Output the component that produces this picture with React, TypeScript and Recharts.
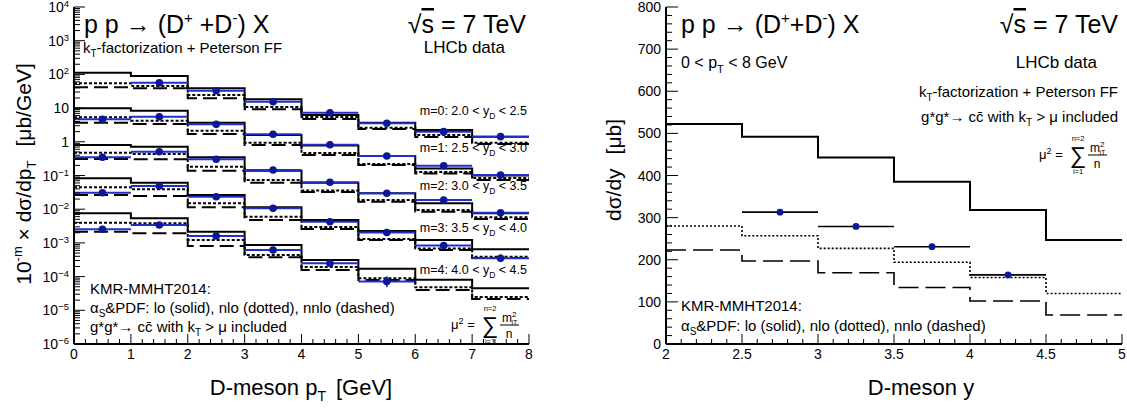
import React from 'react';
import { ComposedChart, Line, Scatter, XAxis, YAxis, ErrorBar } from 'recharts';

const FONT = '"Liberation Sans", Arial, Helvetica, sans-serif';
const INK = '#000000';
const DOT = '#0c1896';
const BAR = '#1f30c8';

// ---- left panel: dsigma/dpT [mub/GeV] in five rapidity slices, drawn as 10^-m x value
const ptEdges = [0, 1, 2, 3, 4, 5, 6, 7, 8];
const ptCenters = [0.5, 1.5, 2.5, 3.5, 4.5, 5.5, 6.5, 7.5];
const sliceRanges = [['2.0', '2.5'], ['2.5', '3.0'], ['3.0', '3.5'], ['3.5', '4.0'], ['4.0', '4.5']];

const m0Lo = [112, 90, 38.7, 18.2, 6.2, 3.7, 2.24, 1.42];
const m0Nlo = [54.5, 45.3, 24.5, 10.8, 5.45, 2.62, 1.59, 0.94];
const m0Nnlo = [41.4, 38.7, 19.5, 9.2, 4.75, 2.4, 1.39, 0.86];
const m0Data = [null, 56.7, 32.8, 15.5, 7.3, 3.54, 2.0, 1.42];
const m0Err = [0, 0.05, 0.05, 0.05, 0.06, 0.07, 0.08, 0.1];

const m1Lo = [98.6, 83.7, 36.9, 15.9, 7.76, 3.79, 1.61, 1.0];
const m1Nlo = [53.3, 42.3, 21.3, 9.4, 4.66, 2.19, 1.27, 0.84];
const m1Nnlo = [36.9, 33.7, 17.0, 8.0, 4.06, 2.05, 1.15, 0.73];
const m1Data = [46.6, 55.6, 33.0, 16.7, 8.2, 3.79, 1.95, 1.03];
const m1Err = [0.05, 0.05, 0.05, 0.05, 0.06, 0.07, 0.08, 0.1];

const m2Lo = [80.4, 71.6, 34.7, 13.9, 6.1, 2.96, 1.5, 0.755];
const m2Nlo = [47.5, 43.5, 18.2, 7.35, 3.59, 1.87, 0.946, 0.575];
const m2Nnlo = [30.9, 30.3, 13.9, 6.1, 3.24, 1.67, 0.843, 0.512];
const m2Data = [34.7, 50.8, 30.3, 14.6, 6.28, 2.96, 1.87, 0.787];
const m2Err = [0.05, 0.05, 0.05, 0.05, 0.06, 0.07, 0.08, 0.12];

const m3Lo = [82.6, 61.1, 26.4, 11.4, 4.79, 2.25, 1.22, 0.646];
const m3Nlo = [44.7, 39.0, 15.0, 5.98, 2.96, 1.31, 0.682, 0.39];
const m3Nnlo = [26.4, 24.7, 11.4, 4.79, 2.58, 1.22, 0.615, 0.356];
const m3Data = [30.9, 48.8, 23.5, 10.6, 4.26, 2.04, 0.838, 0.349];
const m3Err = [0.06, 0.06, 0.06, 0.07, 0.08, 0.1, 0.12, 0.3];

const m4Lo = [75.5, 53.7, 21.5, 8.67, 3.11, 1.71, 0.81, 0.45];
const m4Nlo = [39.7, 38.2, 12.2, 4.38, 1.93, 0.89, 0.48, 0.248];
const m4Nnlo = [21.5, 19.3, 8.1, 3.74, 1.57, 0.79, 0.40, 0.216];
const m4Data = [25.4, 34.0, 16.0, 6.15, 2.48, 0.71, null, null];
const m4Err = [0.08, 0.08, 0.1, 0.12, 0.2, 0.45, 0, 0];

// ---- right panel: dsigma/dy [mub], 0 < pT < 8 GeV
const yEdges = [2, 2.5, 3, 3.5, 4, 4.5, 5];
const yCenters = [2.25, 2.75, 3.25, 3.75, 4.25, 4.75];
const dyLo = [522, 492, 443, 385, 318, 247];
const dyNlo = [280, 257, 227, 194, 158, 120];
const dyNnlo = [223, 197, 169, 134, 102, 69];
const dyData = [null, 313, 279, 231, 164, null];

// axis ticks
const ptMajor = [0, 1, 2, 3, 4, 5, 6, 7, 8];
const ptTicks = Array.from({ length: 41 }, (_, i) => i / 5);
const logTicks: number[] = [];
for (let k = -6; k < 4; k++) for (let j = 1; j < 10; j++) logTicks.push(Number((j * Math.pow(10, k)).toPrecision(6)));
logTicks.push(1e4);
const rapMajor = [2, 2.5, 3, 3.5, 4, 4.5, 5];
const rapTicks = Array.from({ length: 31 }, (_, i) => (20 + i) / 10);
const xsMajor = [0, 100, 200, 300, 400, 500, 600, 700, 800];
const xsTicks = Array.from({ length: 41 }, (_, i) => i * 20);

const slices = [
  { m: 0, lo: m0Lo, nlo: m0Nlo, nnlo: m0Nnlo, data: m0Data, err: m0Err },
  { m: 1, lo: m1Lo, nlo: m1Nlo, nnlo: m1Nnlo, data: m1Data, err: m1Err },
  { m: 2, lo: m2Lo, nlo: m2Nlo, nnlo: m2Nnlo, data: m2Data, err: m2Err },
  { m: 3, lo: m3Lo, nlo: m3Nlo, nnlo: m3Nnlo, data: m3Data, err: m3Err },
  { m: 4, lo: m4Lo, nlo: m4Nlo, nnlo: m4Nnlo, data: m4Data, err: m4Err },
];

const stepRows = (edges: number[], vals: number[], scale = 1) =>
  edges.map((x, i) => ({ x, y: vals[Math.min(i, vals.length - 1)] * scale }));

const pointRows = (centers: number[], vals: (number | null)[], errs: number[] | null, scale: number, half: number) =>
  centers.flatMap((x, i) => {
    const v = vals[i];
    if (v == null) return [];
    const y = v * scale;
    const r = errs ? errs[i] : 0;
    return [{ x, y, ex: half, ey: [y - y / (1 + r), y * r] }];
  });

type Side = 'left' | 'right' | 'top' | 'bottom';

const inList = (list: number[]) => (v: number) => list.some((t) => Math.abs(t - v) < 1e-9);
const isDecade = (v: number) => {
  const k = Math.round(Math.log10(v));
  return Math.abs(v / Math.pow(10, k) - 1) < 1e-6;
};

const logLabel = (v: number) => {
  const k = Math.round(Math.log10(v));
  if (k === 0) return '1';
  if (k === 1) return '10';
  return (
    <>
      <tspan>10</tspan>
      <tspan dy={-5} fontSize={9.5}>{k < 0 ? '\u2212' + Math.abs(k) : String(k)}</tspan>
    </>
  );
};

const makeTick =
  (side: Side, isMajor: (v: number) => boolean, majorLen: number, minorLen: number, label?: (v: number) => React.ReactNode) =>
  (props: any) => {
    const { x, y, payload } = props;
    const v = payload.value;
    const major = isMajor(v);
    const len = major ? majorLen : minorLen;
    const dx = side === 'left' ? len : side === 'right' ? -len : 0;
    const dy = side === 'bottom' ? -len : side === 'top' ? len : 0;
    let text = null;
    if (major && label) {
      if (side === 'bottom')
        text = (
          <text x={x} y={y + 15} textAnchor="middle" fontSize={14} fill={INK} fontFamily={FONT}>
            {label(v)}
          </text>
        );
      if (side === 'left')
        text = (
          <text x={x - 5} y={y + 5} textAnchor="end" fontSize={14} fill={INK} fontFamily={FONT}>
            {label(v)}
          </text>
        );
    }
    return (
      <g>
        <line x1={x} y1={y} x2={x + dx} y2={y + dy} stroke={INK} strokeWidth={1} />
        {text}
      </g>
    );
  };

const frame = { stroke: INK, strokeWidth: 2 };

function PtPanel() {
  const isPtMajor = inList(ptMajor);
  return (
    <ComposedChart width={560} height={410} margin={{ top: 7, right: 31, bottom: 0, left: 0 }}>
      <XAxis dataKey="x" type="number" domain={[0, 8]} ticks={ptTicks} interval={0} height={66} tickSize={0} tickMargin={0}
        tickLine={false} axisLine={frame} allowDataOverflow tick={makeTick('bottom', isPtMajor, 10, 5, (v) => String(v))} />
      <XAxis xAxisId="top" orientation="top" type="number" domain={[0, 8]} ticks={ptTicks} interval={0} height={0} tickSize={0}
        tickMargin={0} tickLine={false} axisLine={frame} allowDataOverflow tick={makeTick('top', isPtMajor, 10, 5)} />
      <YAxis dataKey="y" type="number" scale="log" domain={[1e-6, 1e4]} ticks={logTicks} interval={0} width={74} tickSize={0}
        tickMargin={0} tickLine={false} axisLine={frame} allowDataOverflow tick={makeTick('left', isDecade, 11, 6, logLabel)} />
      <YAxis yAxisId="right" orientation="right" type="number" scale="log" domain={[1e-6, 1e4]} ticks={logTicks} interval={0}
        width={0} tickSize={0} tickMargin={0} tickLine={false} axisLine={frame} allowDataOverflow
        tick={makeTick('right', isDecade, 11, 6)} />
      {slices.flatMap((s) => {
        const scale = Math.pow(10, -s.m);
        return [
          <Line key={`lo${s.m}`} data={stepRows(ptEdges, s.lo, scale)} dataKey="y" type="stepAfter" stroke={INK} strokeWidth={2}
            dot={false} activeDot={false} isAnimationActive={false} />,
          <Line key={`nlo${s.m}`} data={stepRows(ptEdges, s.nlo, scale)} dataKey="y" type="stepAfter" stroke={INK} strokeWidth={2}
            strokeDasharray="3 2" dot={false} activeDot={false} isAnimationActive={false} />,
          <Line key={`nnlo${s.m}`} data={stepRows(ptEdges, s.nnlo, scale)} dataKey="y" type="stepAfter" stroke={INK} strokeWidth={2}
            strokeDasharray="14 6" dot={false} activeDot={false} isAnimationActive={false} />,
        ];
      })}
      {slices.map((s) => (
        <Scatter key={`d${s.m}`} data={pointRows(ptCenters, s.data, s.err, Math.pow(10, -s.m), 0.5)} dataKey="y"
          fill={DOT} isAnimationActive={false}
          shape={(p: any) => <circle cx={p.cx} cy={p.cy} r={3.8} fill={DOT} />}>
          <ErrorBar dataKey="ex" direction="x" width={0} stroke={BAR} strokeWidth={2} />
          <ErrorBar dataKey="ey" direction="y" width={0} stroke={DOT} strokeWidth={1.5} />
        </Scatter>
      ))}
    </ComposedChart>
  );
}

function RapidityPanel() {
  const isRapMajor = inList(rapMajor);
  const isXsMajor = inList(xsMajor);
  return (
    <ComposedChart width={567} height={410} margin={{ top: 7, right: 5, bottom: 0, left: 0 }}>
      <XAxis dataKey="x" type="number" domain={[2, 5]} ticks={rapTicks} interval={0} height={66} tickSize={0} tickMargin={0}
        tickLine={false} axisLine={frame} allowDataOverflow tick={makeTick('bottom', isRapMajor, 10, 5, (v) => String(v))} />
      <XAxis xAxisId="top" orientation="top" type="number" domain={[2, 5]} ticks={rapTicks} interval={0} height={0} tickSize={0}
        tickMargin={0} tickLine={false} axisLine={frame} allowDataOverflow tick={makeTick('top', isRapMajor, 10, 5)} />
      <YAxis dataKey="y" type="number" domain={[0, 800]} ticks={xsTicks} interval={0} width={106} tickSize={0} tickMargin={0}
        tickLine={false} axisLine={frame} allowDataOverflow tick={makeTick('left', isXsMajor, 12, 6, (v) => String(v))} />
      <YAxis yAxisId="right" orientation="right" type="number" domain={[0, 800]} ticks={xsTicks} interval={0} width={0}
        tickSize={0} tickMargin={0} tickLine={false} axisLine={frame} allowDataOverflow tick={makeTick('right', isXsMajor, 12, 6)} />
      <Line data={stepRows(yEdges, dyLo)} dataKey="y" type="stepAfter" stroke={INK} strokeWidth={2} dot={false} activeDot={false}
        isAnimationActive={false} />
      <Line data={stepRows(yEdges, dyNlo)} dataKey="y" type="stepAfter" stroke={INK} strokeWidth={1.6} strokeDasharray="2 2"
        dot={false} activeDot={false} isAnimationActive={false} />
      <Line data={stepRows(yEdges, dyNnlo)} dataKey="y" type="stepAfter" stroke={INK} strokeWidth={1.6} strokeDasharray="20 7"
        dot={false} activeDot={false} isAnimationActive={false} />
      <Scatter data={pointRows(yCenters, dyData, null, 1, 0.25)} dataKey="y" fill={DOT} isAnimationActive={false}
        shape={(p: any) => <circle cx={p.cx} cy={p.cy} r={3.4} fill={DOT} />}>
        <ErrorBar dataKey="ex" direction="x" width={0} stroke={INK} strokeWidth={1.6} />
      </Scatter>
    </ComposedChart>
  );
}

// subscript followed by the rest of the line back on the baseline
const sub = (t: string, rest: string, fs = 10, d = 4) => (
  <>
    <tspan dy={d} fontSize={fs}>{t}</tspan>
    <tspan dy={-d}>{rest}</tspan>
  </>
);

function MuFormula({ x, y }: { x: number; y: number }) {
  return (
    <g fill={INK} fontFamily={FONT}>
      <text x={x} y={y + 4} fontSize={13}>
        μ<tspan dy={-5} fontSize={9}>2</tspan>
        <tspan dy={5}> =</tspan>
      </text>
      <text x={x + 39} y={y + 8} fontSize={23} textAnchor="middle">∑</text>
      <text x={x + 39} y={y - 14} fontSize={7.5} textAnchor="middle">n=2</text>
      <text x={x + 39} y={y + 19} fontSize={7.5} textAnchor="middle">i=1</text>
      <text x={x + 51} y={y - 3} fontSize={12}>
        m<tspan dy={-5} fontSize={8}>2</tspan>
        <tspan dx={-5} dy={8} fontSize={7}>iT</tspan>
      </text>
      <line x1={x + 49} x2={x + 68} y1={y} y2={y} stroke={INK} strokeWidth={1} />
      <text x={x + 58} y={y + 13} fontSize={12} textAnchor="middle">n</text>
    </g>
  );
}

function Title({ x, y, spaced }: { x: number; y: number; spaced: boolean }) {
  return (
    <text x={x} y={y} fontSize={25} fill={INK}>
      p p → (D<tspan dy={-10} fontSize={15}>+</tspan>
      <tspan dy={10}>{spaced ? '\u00a0+D' : '+D'}</tspan>
      <tspan dy={-10} fontSize={15}>-</tspan>
      <tspan dy={10}>) X</tspan>
    </text>
  );
}

function RootS({ x, y }: { x: number; y: number }) {
  return (
    <text x={x} y={y} fontSize={25} fill={INK} textAnchor="end">
      √<tspan style={{ textDecoration: 'overline' }}>s</tspan> = 7 TeV
    </text>
  );
}

function Annotations() {
  const sliceBase = [115, 152, 190, 232, 274];
  return (
    <svg width={1127} height={410} style={{ position: 'absolute', left: 0, top: 0, pointerEvents: 'none' }} fontFamily={FONT}>
      {/* left panel */}
      <Title x={84} y={33} spaced />
      <RootS x={526} y={33} />
      <text x={83} y={53} fontSize={15} fill={INK}>
        k{sub('T', '-factorization + Peterson FF')}
      </text>
      <text x={505} y={53} fontSize={17} fill={INK} textAnchor="end">LHCb data</text>
      {sliceRanges.map(([a, b], i) => (
        <text key={i} x={527} y={sliceBase[i]} fontSize={12.5} fill={INK} textAnchor="end">
          {`m=${i}: ${a} < y`}
          {sub('D', ` < ${b}`, 8.5, 4)}
        </text>
      ))}
      <text x={90} y={294} fontSize={15} fill={INK}>KMR-MMHT2014:</text>
      <text x={90} y={313} fontSize={15} fill={INK}>
        α{sub('S', '&PDF: lo (solid), nlo (dotted), nnlo (dashed)')}
      </text>
      <text x={90} y={332} fontSize={15} fill={INK}>
        {'g*g*→ cc\u0304 with k'}
        {sub('T', ' > μ included')}
      </text>
      <MuFormula x={451} y={325} />
      <text transform="translate(31,174) rotate(-90)" textAnchor="middle" fontSize={21} fill={INK}>
        10<tspan dy={-9} fontSize={13}>-m</tspan>
        <tspan dy={9}> × dσ/dp</tspan>
        <tspan dy={5} fontSize={13}>T</tspan>
        <tspan dy={-5} dx={14}>[μb/GeV]</tspan>
      </text>
      <text x={301} y={395} textAnchor="middle" fontSize={22} fill={INK}>
        D-meson p<tspan dy={6} fontSize={14}>T</tspan>
        <tspan dy={-6} dx={10}>[GeV]</tspan>
      </text>

      {/* right panel */}
      <Title x={681} y={33} spaced={false} />
      <RootS x={1118} y={33} />
      <text x={681} y={68} fontSize={16} fill={INK}>
        0 &lt; p{sub('T', ' < 8 GeV', 11, 5)}
      </text>
      <text x={1097} y={68} fontSize={17} fill={INK} textAnchor="end">LHCb data</text>
      <text x={1118} y={97} fontSize={15} fill={INK} textAnchor="end">
        k{sub('T', '-factorization + Peterson FF')}
      </text>
      <text x={1118} y={122} fontSize={15} fill={INK} textAnchor="end">
        {'g*g*→ cc\u0304 with k'}
        {sub('T', ' > μ included')}
      </text>
      <MuFormula x={1039} y={155} />
      <text x={681} y={311} fontSize={15} fill={INK}>KMR-MMHT2014:</text>
      <text x={681} y={331} fontSize={15} fill={INK}>
        α{sub('S', '&PDF: lo (solid), nlo (dotted), nnlo (dashed)')}
      </text>
      <text transform="translate(621,170) rotate(-90)" textAnchor="middle" fontSize={21} fill={INK}>
        dσ/dy<tspan dx={14}>[μb]</tspan>
      </text>
      <text x={921} y={395} textAnchor="middle" fontSize={22} fill={INK}>D-meson y</text>
    </svg>
  );
}

export default function App() {
  return (
    <div style={{ position: 'absolute', left: 0, top: 0, width: 1127, height: 410, background: '#fff', fontFamily: FONT }}>
      <div style={{ position: 'absolute', left: 0, top: 0 }}>
        <PtPanel />
      </div>
      <div style={{ position: 'absolute', left: 560, top: 0 }}>
        <RapidityPanel />
      </div>
      <Annotations />
    </div>
  );
}
